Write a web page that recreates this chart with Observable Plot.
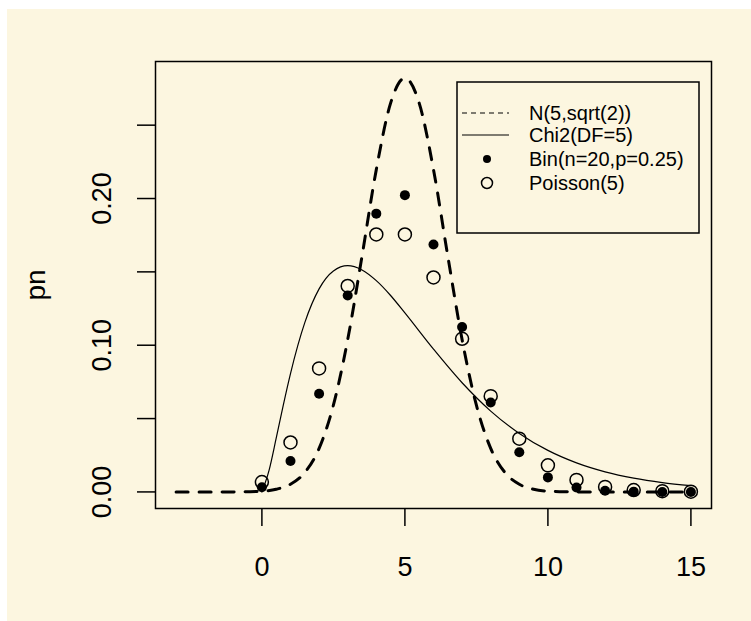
<!DOCTYPE html>
<html>
<head>
<meta charset="utf-8">
<script src="https://cdn.jsdelivr.net/npm/d3@7"></script>
<script src="https://cdn.jsdelivr.net/npm/@observablehq/plot@0.6"></script>
<style>
  html, body { margin: 0; padding: 0; background: #ffffff; }
  #wrap { position: relative; width: 751px; height: 621px; overflow: hidden; }
  #bg { position: absolute; left: 7px; top: 9px; right: 0; bottom: 0; background: #fcf6e0; }
  #chart { position: absolute; left: 0; top: 0; }
  #legend { position: absolute; left: 456px; top: 81px; }
</style>
</head>
<body>
<div id="wrap"><div id="bg"></div><div id="chart"></div><div id="legend"></div></div>
<script>
// Normal N(5, sqrt(2)) density
const normX = [-3, -2, -1, -0.5, 0, 0.5, 1, 1.5, 2, 2.5, 3, 3.5, 4, 4.5, 5, 5.5, 6, 6.5, 7, 7.5, 8, 8.5, 9, 9.5, 10, 10.5, 11, 12, 13, 14, 15];
const normY = [0, 0, 0.00003, 0.00015, 0.0005, 0.0018, 0.0052, 0.0132, 0.0297, 0.0591, 0.1038, 0.1607, 0.2197, 0.2650, 0.2821, 0.2650, 0.2197, 0.1607, 0.1038, 0.0591, 0.0297, 0.0132, 0.0052, 0.0018, 0.0005, 0.00015, 0.00003, 0, 0, 0, 0];
// Chi-square (DF = 5) density, solid curve
const chiX = [0, 0.25, 0.5, 0.75, 1, 1.5, 2, 2.5, 3, 3.5, 4, 4.5, 5, 6, 7, 8, 9, 10, 11, 12, 13, 14, 15];
const chiY = [0, 0.0147, 0.0366, 0.0594, 0.0807, 0.1154, 0.1384, 0.1506, 0.1542, 0.1513, 0.1440, 0.1339, 0.1220, 0.0973, 0.0744, 0.0551, 0.0399, 0.0283, 0.0198, 0.0137, 0.0094, 0.0064, 0.0043];
// Discrete distributions at k = 0..15
const k = [0, 1, 2, 3, 4, 5, 6, 7, 8, 9, 10, 11, 12, 13, 14, 15];
const binom = [0.0032, 0.0211, 0.0669, 0.1339, 0.1897, 0.2023, 0.1686, 0.1124, 0.0609, 0.0271, 0.0099, 0.0030, 0.0008, 0.0002, 0.0000, 0.0000];
const pois = [0.0067, 0.0337, 0.0842, 0.1404, 0.1755, 0.1755, 0.1462, 0.1044, 0.0653, 0.0363, 0.0181, 0.0082, 0.0034, 0.0013, 0.0005, 0.0002];
// Axes
const xTicks = [0, 5, 10, 15];
const yTicks = [0, 0.05, 0.10, 0.15, 0.20, 0.25];
const yLabels = [0, 0.10, 0.20];
const yTitle = "pn";
const legendLabels = ["N(5,sqrt(2))", "Chi2(DF=5)", "Bin(n=20,p=0.25)", "Poisson(5)"];

const normData = normX.map((x, i) => ({x, y: normY[i]}));
const chiData = chiX.map((x, i) => ({x, y: chiY[i]}));
const binData = k.map((x, i) => ({x, y: binom[i]}));
const poisData = k.map((x, i) => ({x, y: pois[i]}));

const FONT = "'Liberation Sans', Arial, Helvetica, sans-serif";

const chart = Plot.plot({
  width: 751,
  height: 621,
  marginLeft: 155,
  marginRight: 40,
  marginTop: 61,
  marginBottom: 113,
  style: { background: "transparent", fontFamily: FONT, color: "black" },
  x: { domain: [-3.72, 15.72], axis: null },
  y: { domain: [-0.0113, 0.2934], axis: null },
  marks: [
    Plot.line(normData, { x: "x", y: "y", stroke: "black", strokeWidth: 3, strokeDasharray: "12,11", curve: "monotone-x" }),
    Plot.line(chiData, { x: "x", y: "y", stroke: "black", strokeWidth: 1.2, curve: "monotone-x" }),
    Plot.dot(binData, { x: "x", y: "y", r: 5, fill: "black", stroke: "none" }),
    Plot.dot(poisData, { x: "x", y: "y", r: 6.5, fill: "none", stroke: "black", strokeWidth: 1.5 }),
    Plot.axisX({ ticks: xTicks, tickSize: 18, tickFormat: () => "", label: null, strokeWidth: 1.5 }),
    Plot.axisY({ ticks: yTicks, tickSize: 18, tickFormat: () => "", label: null, strokeWidth: 1.5 }),
    Plot.text(xTicks, { x: d => d, frameAnchor: "bottom", dy: 59, lineAnchor: "middle", fontSize: 27, fill: "black" }),
    Plot.text(yLabels, { y: d => d, text: d => d.toFixed(2), frameAnchor: "left", dx: -53, rotate: -90, textAnchor: "middle", lineAnchor: "middle", fontSize: 27, fill: "black" }),
    Plot.text([yTitle], { text: d => d, frameAnchor: "left", dx: -119, rotate: -90, textAnchor: "middle", lineAnchor: "middle", fontSize: 28, fill: "black" }),
    Plot.frame({ stroke: "black", strokeWidth: 1.5 })
  ]
});
document.getElementById("chart").appendChild(chart);

// Legend (R-style box)
const lw = 242, lh = 151;
const leg = d3.select("#legend").append("svg").attr("width", lw + 2).attr("height", lh + 2)
  .style("font-family", FONT);
leg.append("rect").attr("x", 1).attr("y", 1).attr("width", lw).attr("height", lh)
  .attr("fill", "none").attr("stroke", "black").attr("stroke-width", 1.5);
const rowY = [32, 54, 78, 102];
const g = leg.selectAll("g.row").data(legendLabels).join("g").attr("class", "row")
  .attr("transform", (d, i) => `translate(0,${rowY[i]})`);
g.append("text").attr("x", 73).attr("y", 0).attr("dy", "0.35em")
  .attr("font-size", 20).attr("fill", "black").text(d => d);
g.filter((d, i) => i === 0).append("line").attr("x1", 6).attr("x2", 53)
  .attr("stroke", "black").attr("stroke-width", 1.2).attr("stroke-dasharray", "5,4");
g.filter((d, i) => i === 1).append("line").attr("x1", 6).attr("x2", 53)
  .attr("stroke", "black").attr("stroke-width", 1.2);
g.filter((d, i) => i === 2).append("circle").attr("cx", 31).attr("r", 4).attr("fill", "black");
g.filter((d, i) => i === 3).append("circle").attr("cx", 31).attr("r", 5.5)
  .attr("fill", "none").attr("stroke", "black").attr("stroke-width", 1.5);
</script>
</body>
</html>
